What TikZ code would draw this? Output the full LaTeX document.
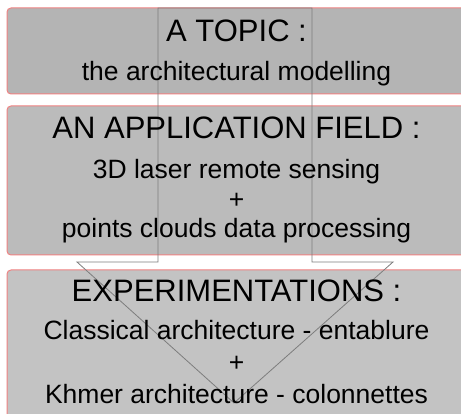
\documentclass[tikz,border=0pt]{standalone}
\usepackage{fontspec}
\setmainfont{Liberation Sans}
\definecolor{boxred}{RGB}{240,130,130}
\definecolor{fillA}{RGB}{180,180,180}
\definecolor{fillB}{RGB}{187,187,187}
\definecolor{fillC}{RGB}{195,195,195}
\definecolor{arrowgray}{RGB}{125,125,125}
\tikzset{
  panel/.style={draw=boxred, line width=1pt, rounded corners=4pt},
  titletext/.style={anchor=base, inner sep=0pt, font=\fontsize{31}{36}\selectfont},
  subtext/.style={anchor=base, inner sep=0pt, font=\fontsize{26.5}{30}\selectfont},
  bigarrow/.style={draw=arrowgray, line width=0.8pt, line join=miter}
}
\begin{document}
\begin{tikzpicture}[x=1pt,y=-1pt]
\clip (0,0) rectangle (461,414);
\fill[white] (0,0) rectangle (461,414);
% panels
\draw[panel, fill=fillA] (7,8) rectangle (468,94);
\draw[panel, fill=fillB] (7,106) rectangle (468,255);
\draw[panel, fill=fillC] (7,270) rectangle (468,430);
% big arrow outline
\coordinate (a1) at (158,8);
\coordinate (a2) at (312,8);
\coordinate (a3) at (312,262);
\coordinate (a4) at (393,262);
\coordinate (tip) at (234,403);
\coordinate (a6) at (77,262);
\coordinate (a7) at (158,262);
\draw[bigarrow] (a1) -- (a2) -- (a3) -- (a4) -- (tip) -- (a6) -- (a7) -- cycle;
% texts
\node[titletext] (t1) at (236.5,42) {A TOPIC :};
\node[subtext] (s1) at (236.5,81) {the architectural modelling};
\node[titletext] (t2) at (236.5,139) {AN APPLICATION FIELD :};
\node[subtext] (s2a) at (236.5,179) {3D laser remote sensing};
\node[subtext] (s2b) at (236.5,209) {+};
\node[subtext] (s2c) at (236.5,238) {points clouds data processing};
\node[titletext] (t3) at (236.5,302) {EXPERIMENTATIONS :};
\node[subtext] (s3a) at (236.5,340) {Classical architecture - entablure};
\node[subtext] (s3b) at (236.5,372) {+};
\node[subtext] (s3c) at (236.5,403) {Khmer architecture - colonnettes};
\end{tikzpicture}
\end{document}
